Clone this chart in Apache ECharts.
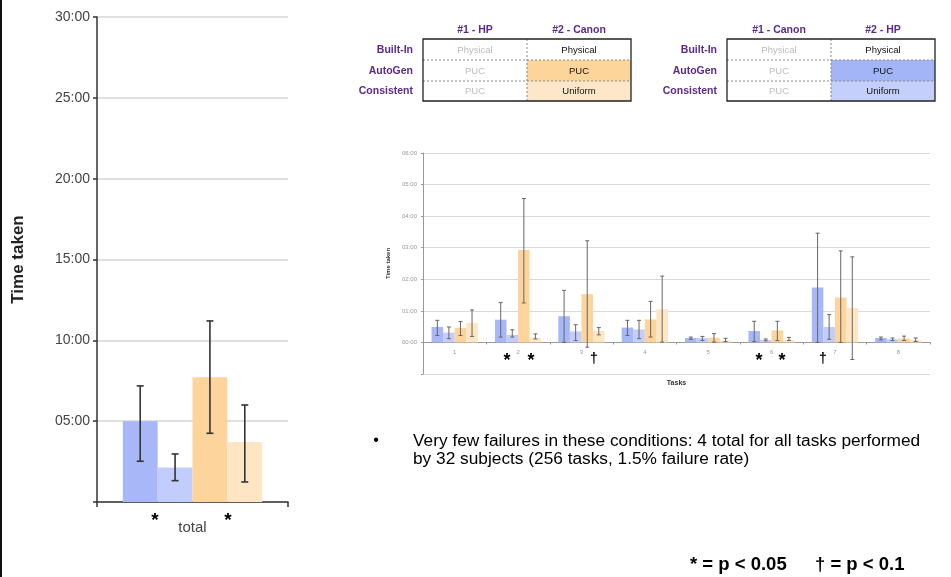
<!DOCTYPE html>
<html>
<head>
<meta charset="utf-8">
<script src="https://cdn.jsdelivr.net/npm/echarts@6/dist/echarts.min.js"></script>
<style>html,body{margin:0;padding:0;background:#fff;}#c{width:951px;height:577px;}</style>
</head>
<body>
<div id="c"></div>
<script>
// ---------- DATA ----------
const conditionNames = ['HP AutoGen (PUC)', 'HP Consistent (Uniform)', 'Canon AutoGen (PUC)', 'Canon Consistent (Uniform)'];
// totals (minutes)
const totalCategories = ['total'];
const totalMean = [5.0, 2.13, 7.71, 3.71];
const totalLow  = [2.52, 1.32, 4.25, 1.24];
const totalHigh = [7.18, 2.97, 11.2, 6.0];

// per task (minutes)
const taskCategories = ['1', '2', '3', '4', '5', '6', '7', '8'];
const hpPucMean = [0.49, 0.72, 0.83, 0.47, 0.14, 0.36, 1.74, 0.14];
const hpPucLow  = [0.22, 0.17, 0.00, 0.22, 0.10, 0.03, 0.00, 0.08];
const hpPucHigh = [0.70, 1.26, 1.65, 0.70, 0.17, 0.67, 3.46, 0.17];
const hpUniMean = [0.31, 0.24, 0.35, 0.41, 0.14, 0.08, 0.49, 0.10];
const hpUniLow  = [0.12, 0.17, 0.06, 0.12, 0.06, 0.05, 0.10, 0.06];
const hpUniHigh = [0.49, 0.40, 0.56, 0.70, 0.19, 0.11, 0.88, 0.14];
const canonPucMean = [0.46, 2.93, 1.53, 0.73, 0.15, 0.38, 1.42, 0.12];
const canonPucLow  = [0.22, 1.25, -0.15, 0.17, 0.01, 0.06, 0.00, 0.06];
const canonPucHigh = [0.66, 4.56, 3.22, 1.30, 0.28, 0.67, 2.90, 0.20];
const canonUniMean = [0.62, 0.15, 0.36, 1.05, 0.06, 0.08, 1.09, 0.08];
const canonUniLow  = [0.19, 0.11, 0.24, 0.01, 0.03, 0.06, -0.54, 0.03];
const canonUniHigh = [1.03, 0.27, 0.47, 2.10, 0.13, 0.16, 2.71, 0.14];

// significance marks
const totalMarks = ['*', '*'];
const taskMarks = ['*', '*', '†', '*', '*', '†'];

// condition tables
const table1Headers = ['#1 - HP', '#2 - Canon'];
const table2Headers = ['#1 - Canon', '#2 - HP'];
const rowLabels = ['Built-In', 'AutoGen', 'Consistent'];
const col1Cells = ['Physical', 'PUC', 'PUC'];
const col2Cells = ['Physical', 'PUC', 'Uniform'];

const bulletText = ['Very few failures in these conditions: 4 total for all tasks performed', 'by 32 subjects (256 tasks, 1.5% failure rate)'];
const footnotes = ['* = p < 0.05', '† = p < 0.1'];

// ---------- STYLE ----------
const colors = ['#A7B7F8', '#C2CDFC', '#FDD49B', '#FEE6C5'];
const GAP = 0.27;

function mmss(v) {
  const m = Math.round(v);
  return (m < 10 ? '0' : '') + m + ':00';
}

function barSeries(idx, name, data, color) {
  return {
    type: 'bar', name: name, xAxisIndex: idx, yAxisIndex: idx,
    data: data, barGap: '0%', barCategoryGap: (GAP * 100) + '%',
    itemStyle: { color: color }, silent: true
  };
}

function errSeries(idx, sIdx, low, high, stroke, lw, capW) {
  return {
    type: 'custom', xAxisIndex: idx, yAxisIndex: idx, z: 10, silent: true,
    data: low.map((l, i) => [i, l, high[i]]),
    encode: { x: 0, y: [1, 2] },
    renderItem: function (params, api) {
      const ci = api.value(0);
      const band = api.size([1, 0])[0];
      const group = band * (1 - GAP);
      const bw = group / 4;
      const p0 = api.coord([ci, api.value(1)]);
      const p1 = api.coord([ci, api.value(2)]);
      const x = p0[0] - group / 2 + (sIdx + 0.5) * bw;
      const st = { stroke: stroke, lineWidth: lw };
      return {
        type: 'group', children: [
          { type: 'line', shape: { x1: x, y1: p0[1], x2: x, y2: p1[1] }, style: st },
          { type: 'line', shape: { x1: x - capW, y1: p0[1], x2: x + capW, y2: p0[1] }, style: st },
          { type: 'line', shape: { x1: x - capW, y1: p1[1], x2: x + capW, y2: p1[1] }, style: st }
        ]
      };
    }
  };
}

const taskMeans = [hpPucMean, hpUniMean, canonPucMean, canonUniMean];
const taskLows = [hpPucLow, hpUniLow, canonPucLow, canonUniLow];
const taskHighs = [hpPucHigh, hpUniHigh, canonPucHigh, canonUniHigh];

const series = [];
conditionNames.forEach((n, i) => {
  series.push(barSeries(0, n, [totalMean[i]], colors[i]));
});
conditionNames.forEach((n, i) => {
  series.push(errSeries(0, i, [totalLow[i]], [totalHigh[i]], '#333', 1.6, 3.5));
});
conditionNames.forEach((n, i) => {
  series.push(barSeries(1, n, taskMeans[i], colors[i]));
});
conditionNames.forEach((n, i) => {
  series.push(errSeries(1, i, taskLows[i], taskHighs[i], '#666', 1, 2));
});

// ---------- GRAPHICS (tables, text) ----------
const purple = '#5A2A8E';
function table(x0, x1, split, headers, fills) {
  const rows = [39, 60, 81, 101];
  const els = [];
  for (let r = 0; r < 3; r++) {
    if (fills[r]) {
      els.push({ type: 'rect', shape: { x: split, y: rows[r], width: x1 - split, height: rows[r + 1] - rows[r] }, style: { fill: fills[r] } });
    }
  }
  els.push({ type: 'line', shape: { x1: split, y1: rows[0], x2: split, y2: rows[3] }, style: { stroke: '#888', lineWidth: 1, lineDash: [2, 2] } });
  for (let r = 1; r < 3; r++) {
    els.push({ type: 'line', shape: { x1: x0, y1: rows[r], x2: x1, y2: rows[r] }, style: { stroke: '#888', lineWidth: 1, lineDash: [2, 2] } });
  }
  els.push({ type: 'rect', shape: { x: x0, y: rows[0], width: x1 - x0, height: rows[3] - rows[0] }, style: { fill: null, stroke: '#222', lineWidth: 1.3 } });
  els.push({ type: 'text', x: (x0 + split) / 2, y: 30, style: { text: headers[0], fill: purple, font: 'bold 10.5px "Liberation Sans", Arial', align: 'center', verticalAlign: 'middle' } });
  els.push({ type: 'text', x: (split + x1) / 2, y: 30, style: { text: headers[1], fill: purple, font: 'bold 10.5px "Liberation Sans", Arial', align: 'center', verticalAlign: 'middle' } });
  for (let r = 0; r < 3; r++) {
    const cy = (rows[r] + rows[r + 1]) / 2 + 0.5;
    els.push({ type: 'text', x: x0 - 10, y: cy, style: { text: rowLabels[r], fill: purple, font: 'bold 10.5px "Liberation Sans", Arial', align: 'right', verticalAlign: 'middle' } });
    els.push({ type: 'text', x: (x0 + split) / 2, y: cy, style: { text: col1Cells[r], fill: '#BDBDBD', font: '9.5px "Liberation Sans", Arial', align: 'center', verticalAlign: 'middle' } });
    els.push({ type: 'text', x: (split + x1) / 2, y: cy, style: { text: col2Cells[r], fill: '#111', font: '9.5px "Liberation Sans", Arial', align: 'center', verticalAlign: 'middle' } });
  }
  return els;
}

const graphics = [
  { type: 'rect', shape: { x: 0, y: 0, width: 2, height: 577 }, style: { fill: '#111' } }
]
  .concat(table(423, 631, 527, table1Headers, [null, '#FDD49A', '#FEE7C8']))
  .concat(table(727, 935, 831, table2Headers, [null, '#A3B4F7', '#C4CFFB']));

const totalMarkX = [155, 228];
totalMarks.forEach((m, i) => {
  graphics.push({ type: 'text', x: totalMarkX[i], y: 521, style: { text: m, fill: '#000', font: 'bold 19px "Liberation Sans", Arial', align: 'center', verticalAlign: 'middle' } });
});
const taskMarkX = [507, 531, 594, 759, 782, 823];
taskMarks.forEach((m, i) => {
  graphics.push({ type: 'text', x: taskMarkX[i], y: m === '*' ? 361 : 359, style: { text: m, fill: '#000', font: (m === '*' ? 'bold 18px' : 'bold 14px') + ' "Liberation Sans", Arial', align: 'center', verticalAlign: 'middle' } });
});

graphics.push({ type: 'text', x: 376, y: 441, style: { text: '•', fill: '#000', font: '16px "Liberation Sans", Arial', align: 'center', verticalAlign: 'middle' } });
bulletText.forEach((t, i) => {
  graphics.push({ type: 'text', x: 413, y: 441 + i * 18, style: { text: t, fill: '#000', font: '17.3px "Liberation Sans", Arial', align: 'left', verticalAlign: 'middle' } });
});
graphics.push({ type: 'text', x: 690, y: 565, style: { text: footnotes[0], fill: '#000', font: 'bold 18.5px "Liberation Sans", Arial', align: 'left', verticalAlign: 'middle' } });
graphics.push({ type: 'text', x: 815, y: 565, style: { text: footnotes[1], fill: '#000', font: 'bold 18.5px "Liberation Sans", Arial', align: 'left', verticalAlign: 'middle' } });

// ---------- CHART ----------
const taskGrid = { left: 423, right: 21, top: 153, bottom: 203 };
const taskMin = -1, taskMax = 6;
const taskGridH = 577 - taskGrid.top - taskGrid.bottom;
// move the category axis up to the zero line of the value axis
const taskAxisOffset = -taskGridH * (0 - taskMin) / (taskMax - taskMin);

const chart = echarts.init(document.getElementById('c'), null, { renderer: 'canvas' });
chart.setOption({
  animation: false,
  backgroundColor: '#fff',
  grid: [
    { left: 97, right: 663, top: 17, bottom: 75 },
    taskGrid
  ],
  xAxis: [
    {
      type: 'category', gridIndex: 0, data: totalCategories,
      axisLine: { lineStyle: { color: '#333', width: 1.5 } },
      axisTick: { show: true, length: 5, lineStyle: { color: '#333', width: 1.5 } },
      axisLabel: { color: '#444', fontSize: 15, margin: 18, fontFamily: '"Liberation Sans", Arial' }
    },
    {
      type: 'category', gridIndex: 1, data: taskCategories, offset: taskAxisOffset,
      name: 'Tasks', nameLocation: 'middle', nameGap: 37,
      nameTextStyle: { fontSize: 7, fontWeight: 'bold', color: '#333', fontFamily: '"Liberation Sans", Arial' },
      axisLine: { onZero: false, lineStyle: { color: '#999', width: 1 } },
      axisTick: { show: true, length: 2, lineStyle: { color: '#999' } },
      axisLabel: { color: '#999', fontSize: 6, margin: 7, fontFamily: '"Liberation Sans", Arial' }
    }
  ],
  yAxis: [
    {
      type: 'value', gridIndex: 0, min: 0, max: 30, interval: 5,
      name: 'Time taken', nameLocation: 'middle', nameGap: 70, nameRotate: 90,
      nameTextStyle: { fontSize: 17, fontWeight: 'bold', color: '#222', fontFamily: '"Liberation Sans", Arial' },
      axisLine: { show: true, lineStyle: { color: '#333', width: 1.5 } },
      axisTick: { show: true, length: 4, lineStyle: { color: '#333', width: 1.5 } },
      axisLabel: { color: '#444', fontSize: 14, margin: 7, fontFamily: '"Liberation Sans", Arial', formatter: v => v === 0 ? '' : mmss(v) },
      splitLine: { show: true, lineStyle: { color: '#D6D6D6', width: 1.5 } }
    },
    {
      type: 'value', gridIndex: 1, min: taskMin, max: taskMax, interval: 1,
      name: 'Time taken', nameLocation: 'middle', nameGap: 30, nameRotate: 90,
      nameTextStyle: { fontSize: 6, fontWeight: 'bold', color: '#333', fontFamily: '"Liberation Sans", Arial' },
      axisLine: { show: true, lineStyle: { color: '#999', width: 1 } },
      axisTick: { show: true, length: 2, lineStyle: { color: '#999' } },
      axisLabel: { color: '#999', fontSize: 6, margin: 6, fontFamily: '"Liberation Sans", Arial', formatter: v => v < 0 ? '' : mmss(v) },
      splitLine: { show: true, showMinLine: true, showMaxLine: true, lineStyle: { color: '#DADADA', width: 1 } }
    }
  ],
  series: series,
  graphic: graphics
});
</script>
</body>
</html>
